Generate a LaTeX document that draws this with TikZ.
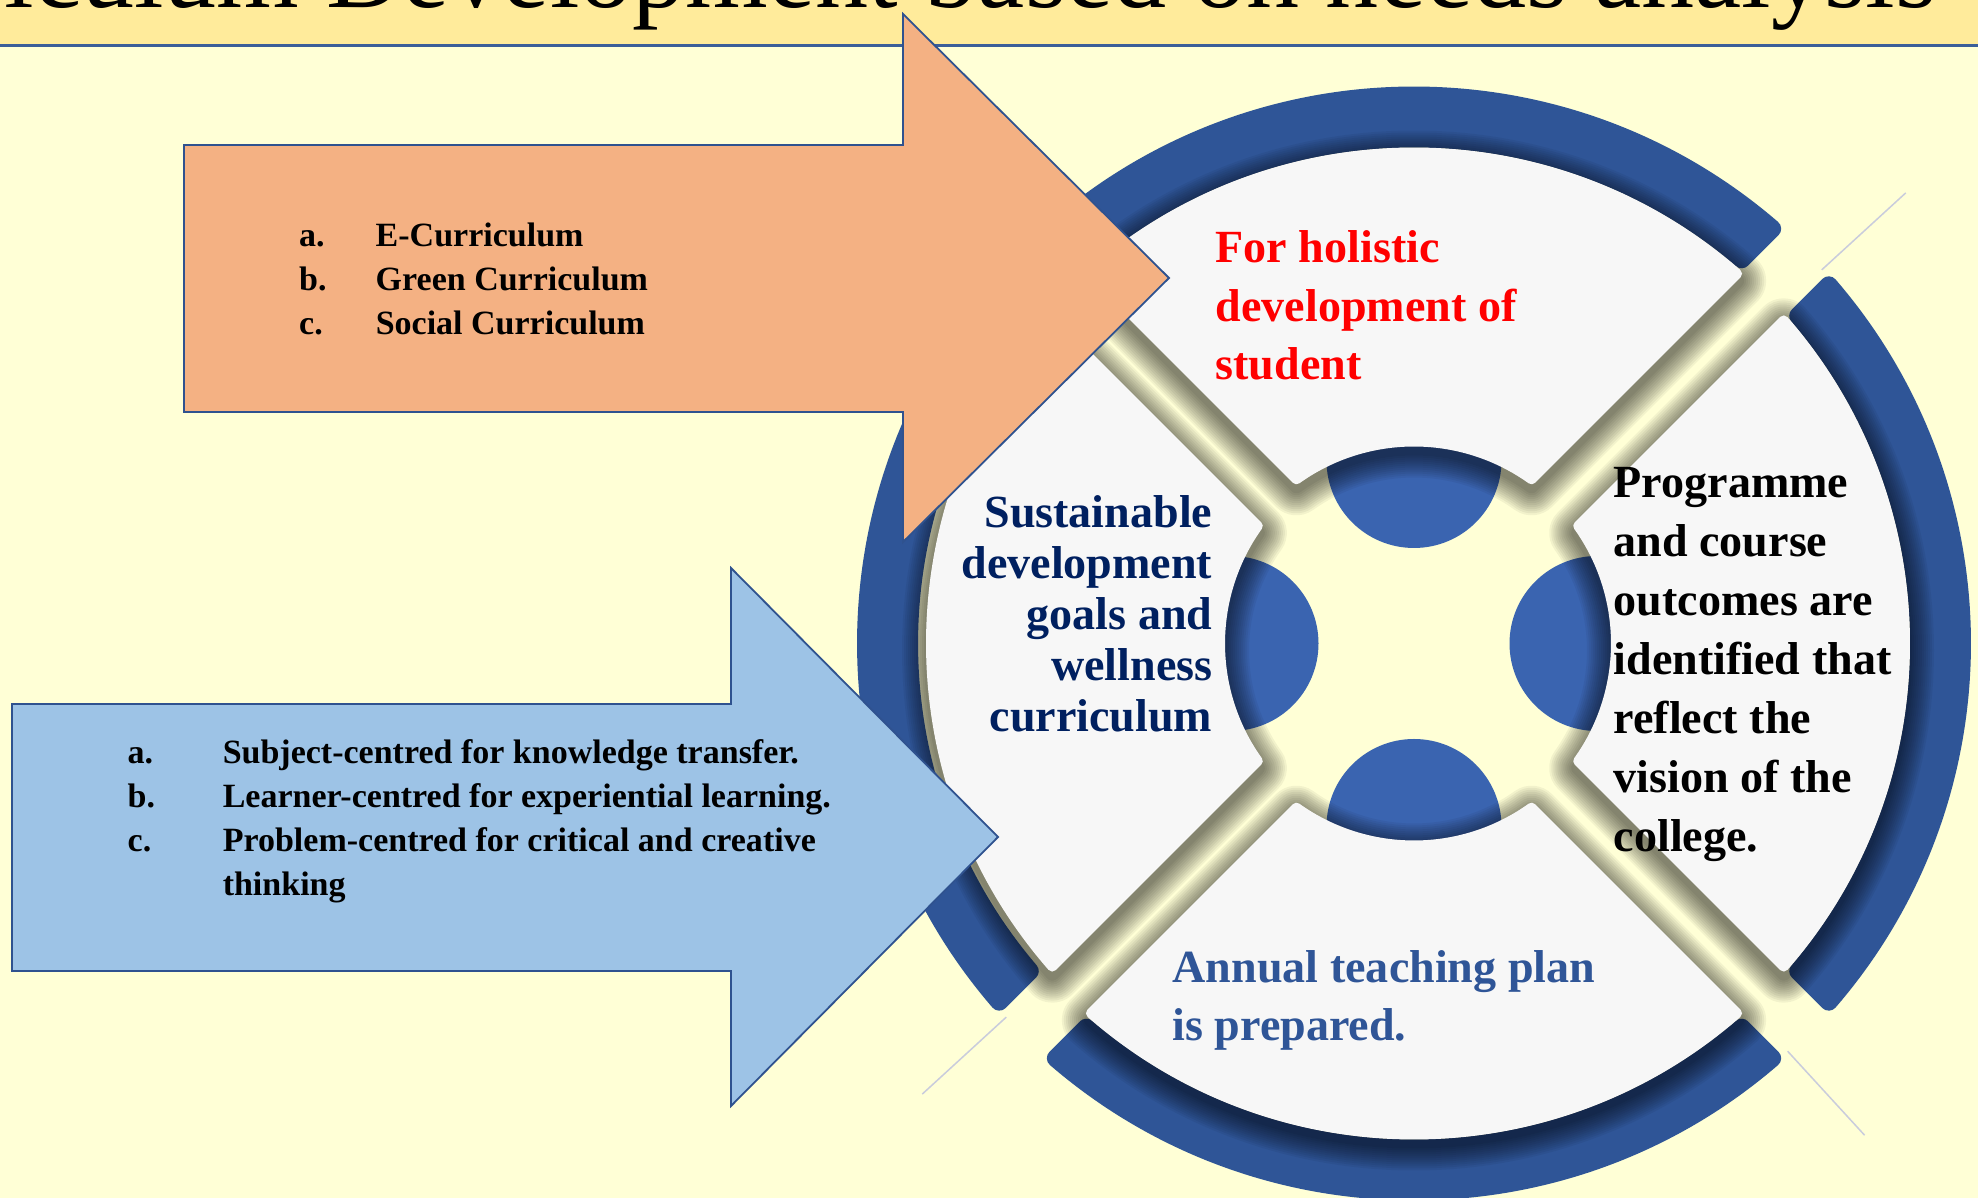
\documentclass[tikz,border=0pt]{standalone}
\usepackage{fontspec}
\setmainfont{Liberation Serif}

\definecolor{pagebg}{HTML}{FFFFD6}
\definecolor{titlebg}{HTML}{FFEB9B}
\definecolor{titleline}{HTML}{3B5E99}
\definecolor{ringblue}{HTML}{2F5597}
\definecolor{dotblue}{HTML}{3A64B0}
\definecolor{piecewhite}{HTML}{F7F7F7}
\definecolor{peach}{HTML}{F4B183}
\definecolor{skyblue}{HTML}{9DC3E6}
\definecolor{arrowedge}{HTML}{2F528F}
\definecolor{navy}{HTML}{002060}
\definecolor{planblue}{HTML}{2F5597}
\definecolor{guide}{HTML}{C9CCDC}

\begin{document}
\begin{tikzpicture}[x=0.01cm, y=-0.01cm,
  sectortext/.style={font=\fontsize{13.1}{16.76}\selectfont\bfseries, inner sep=0pt},
  listtext/.style={font=\fontsize{9.67}{12.43}\selectfont\bfseries, inner sep=0pt, anchor=base west},
  bigarrow/.style={draw=arrowedge, line width=0.018cm, line join=miter},
  piece/.style={insert path={(\ao:491) arc[start angle=\ao, end angle=180-\ao, radius=491]
      -- (180-\ai:202) arc[start angle=180-\ai, end angle=\ai, radius=202] -- cycle}},
  band/.style={insert path={(\ro:548) arc[start angle=\ro, end angle=180-\ro, radius=548]
      -- (180-\ri:505) arc[start angle=180-\ri, end angle=\ri, radius=505] -- cycle}}]

  \useasboundingbox (0,0) rectangle (1978,1198);
  \fill[pagebg] (0,0) rectangle (1978,1198);

  % title strip
  \fill[titlebg] (0,0) rectangle (1978,44);
  \draw[titleline, line width=0.027cm] (0,45.3) -- (1978,45.3);

  \coordinate (C) at (1414,643.5);
  \pgfmathsetmacro\ao{45+asin(33/491)}
  \pgfmathsetmacro\ai{45+asin(33/202)}
  \pgfmathsetmacro\ro{45+asin(40/548)}
  \pgfmathsetmacro\ri{45+asin(40/505)}

  % thin diagonals
  \foreach \t in {-42.5,137.5,47.5,-132.5}
    \draw[guide, line width=0.015cm, shift={(C)}] (\t:553) -- (\t:667);

  % outer ring and centre dots
  \foreach \a in {0,90,180,270}
    \fill[ringblue, draw=ringblue, line width=0.18cm, line join=round, shift={(C)}, rotate=\a, band];
  \foreach \a in {0,90,180,270}
    \fill[dotblue] (C) ++(\a:183) circle[radius=87.5];

  % soft shadows, then the four pieces
  \foreach \a/\dx in {0/0,90/0,180/0,270/0.08}
    \foreach \w in {0.14,0.18,...,0.6}
      \draw[black, opacity=0.05, line width=\w cm, line join=round,
        shift={(C)}, xshift=\dx cm, yshift=-0.07cm, rotate=\a, piece];
  \foreach \a/\dx in {0/0,90/0,180/0,270/0.08}
    \fill[piecewhite, draw=piecewhite, line width=0.1cm, line join=round,
      shift={(C)}, xshift=\dx cm, rotate=\a, piece];

  \node[sectortext, text=red, align=left, anchor=base west] (holistic) at (1215,380)
    {For holistic\\development of\\student};
  \node[sectortext, align=left, anchor=base west] (outcomes) at (1613,851.5)
    {Programme\\and course\\outcomes are\\identified that\\reflect the\\vision of the\\college.};
  \node[sectortext, text=navy, align=right, anchor=base east,
    font=\fontsize{13.1}{14.57}\selectfont\bfseries] (sdg) at (1213,732)
    {Sustainable\\development\\goals and\\wellness\\curriculum};
  \node[sectortext, text=planblue, align=left, anchor=base west] (annual) at (1172,1041)
    {Annual teaching plan\\is prepared.};

  % upper arrow
  \draw[bigarrow, fill=peach] (184,145) -- (903,145) -- (903,14) -- (1169,278)
    -- (903,542) -- (903,412) -- (184,412) -- cycle;
  \node[listtext] (modelist) at (298.5,247)
    {\begin{tabular}[t]{@{}p{0.765cm}@{}l@{}}
      a. & E-Curriculum\\
      b. & Green Curriculum\\
      c. & Social Curriculum
    \end{tabular}};

  % lower arrow
  \draw[bigarrow, fill=skyblue] (12,704) -- (731,704) -- (731,568) -- (998,837)
    -- (731,1106) -- (731,971) -- (12,971) -- cycle;
  \node[listtext] (typelist) at (127,764)
    {\begin{tabular}[t]{@{}p{0.95cm}@{}l@{}}
      a. & Subject-centred for knowledge transfer.\\
      b. & Learner-centred for experiential learning.\\
      c. & Problem-centred for critical and creative\\
         & thinking
    \end{tabular}};

  \begin{scope}
    \clip (0,0) rectangle (1978,1198);
    \node[font=\fontsize{30.2}{36}\selectfont, inner sep=0pt, anchor=base east] (title)
      at (1937,8) {Curriculum Development based on needs analysis};
  \end{scope}
\end{tikzpicture}
\end{document}
